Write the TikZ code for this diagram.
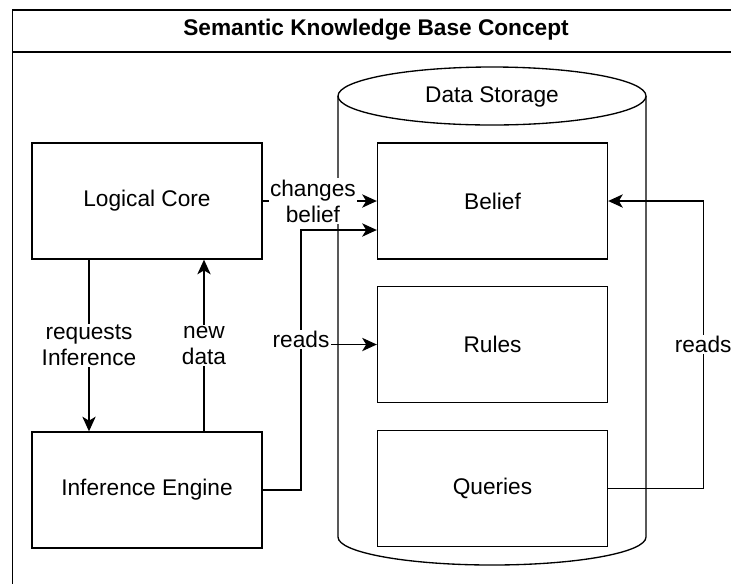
\documentclass[tikz,border=0pt]{standalone}
\usepackage{fontspec}
\setmainfont{Liberation Sans}
\usetikzlibrary{arrows.meta}

\begin{document}
\begin{tikzpicture}[x=0.75pt,y=-0.75pt,
  line width=1pt,>={Stealth[length=11pt,width=10pt,inset=3pt]},
  font=\fontsize{17}{19.5}\selectfont,
  main box/.style={rectangle,draw,fill=white,minimum width=172.5pt,minimum height=87pt},
  edge label/.style={fill=white,align=center,inner sep=1pt}]
  \useasboundingbox (0,0) rectangle (731,583);
  \clip (0,0) rectangle (731,583);
  % frame and title bar
  \draw (12.5,10) rectangle (760,620);
  \draw (12.5,52) -- (760,52);
  \node[font=\fontsize{17}{20}\selectfont\bfseries] (title) at (376,30) {Semantic Knowledge Base Concept};
  % data storage
  \draw[fill=white] (338,96) -- (338,537) arc[start angle=180,end angle=0,x radius=154,y radius=28] -- (646,96);
  \draw[fill=white] (492,96) ellipse[x radius=154,y radius=29];
  \node (store) at (492,97) {Data Storage};
  \node[main box] (logic) at (147,201) {Logical Core};
  \node[main box] (infer) at (147,490) {Inference Engine};
  \node[main box] (belief) at (492.5,201) {Belief};
  \node[main box] (rules) at (492.5,344.5) {Rules};
  \node[main box] (queries) at (492.5,488.5) {Queries};
  \coordinate (bend) at (301,230);
  \draw[->] (logic) -- (belief) node[edge label,pos=0.44]{changes\\belief};
  \draw[->] (infer.east) -| (bend) -- (belief.west |- bend);
  \draw[->] (infer.east) -| (rules.west -| bend) node[edge label,yshift=4pt]{reads} -- (rules.west);
  \draw[->] (queries.east) -- ++(95,0) |- (belief.east) node[edge label,pos=0.25]{reads};
  \draw[->] ([xshift=-43.5pt]logic.south) -- ([xshift=-43.5pt]infer.north) node[edge label,midway]{requests\\Inference};
  \draw[->] ([xshift=42.75pt]infer.north) -- ([xshift=42.75pt]logic.south) node[edge label,midway]{new\\data};
\end{tikzpicture}
\end{document}
